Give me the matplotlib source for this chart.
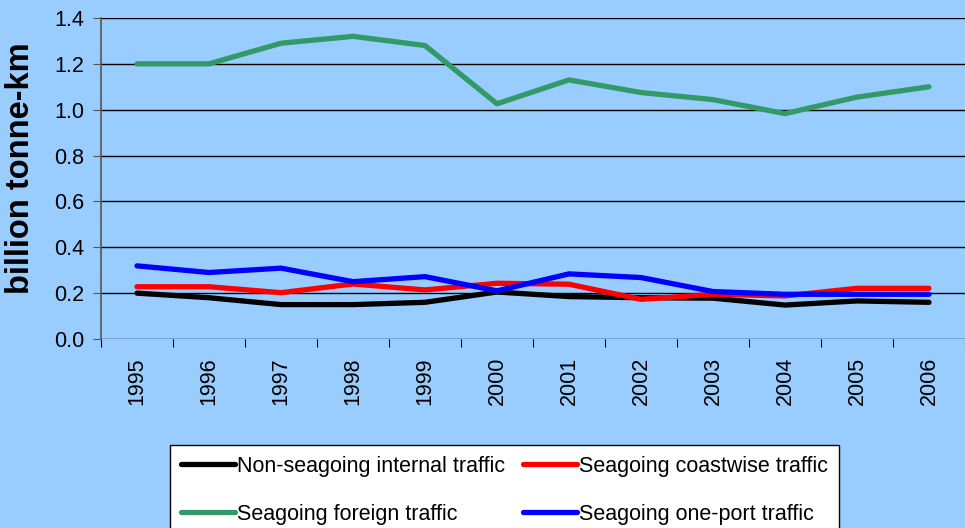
import matplotlib.pyplot as plt
import numpy as np

plt.rcParams['font.family'] = ['Liberation Sans', 'DejaVu Sans']

years = ['1995', '1996', '1997', '1998', '1999', '2000',
         '2001', '2002', '2003', '2004', '2005', '2006']

# billion tonne-km per year
non_seagoing = [0.20, 0.18, 0.15, 0.15, 0.16, 0.205, 0.185, 0.18, 0.178, 0.148, 0.166, 0.16]
coastwise = [0.228, 0.228, 0.202, 0.24, 0.214, 0.243, 0.239, 0.173, 0.195, 0.188, 0.221, 0.221]
foreign = [1.20, 1.20, 1.29, 1.32, 1.28, 1.026, 1.13, 1.075, 1.044, 0.983, 1.055, 1.10]
one_port = [0.319, 0.29, 0.309, 0.25, 0.272, 0.21, 0.284, 0.268, 0.207, 0.195, 0.195, 0.195]

bg = '#99CCFF'
fig = plt.figure(figsize=(9.65, 5.28), dpi=100, facecolor=bg)
ax = fig.add_axes([101/965, 189/528, 1 - 101/965, 321/528])
ax.set_facecolor(bg)

x = np.arange(len(years))
lw = 3.8
l1, = ax.plot(x, non_seagoing, color='black', lw=lw, solid_capstyle='round', label='Non-seagoing internal traffic')
l2, = ax.plot(x, coastwise, color='#FF0000', lw=lw, solid_capstyle='round', label='Seagoing coastwise traffic')
l3, = ax.plot(x, foreign, color='#339966', lw=lw, solid_capstyle='round', label='Seagoing foreign traffic')
l4, = ax.plot(x, one_port, color='#0000FF', lw=lw, solid_capstyle='round', label='Seagoing one-port traffic')

ax.set_xlim(-0.5, len(years) - 0.5)
ax.set_ylim(0, 1.4)
yt = np.arange(0, 1.41, 0.2)
ax.set_yticks(yt)
ax.set_yticklabels(['%.1f' % v for v in yt], fontsize=15.5)
ax.yaxis.grid(True, color='black', lw=1)
ax.set_axisbelow(True)

# category ticks sit between the years, labels centred on each year
ax.set_xticks(np.arange(-0.5, len(years), 1.0))
ax.set_xticklabels([])
ax.set_xticks(x, minor=True)
ax.set_xticklabels(years, minor=True, rotation=90, fontsize=15.5)
ax.tick_params(axis='x', which='minor', length=0, pad=13)
ax.tick_params(axis='x', which='major', length=6, color='black')
ax.tick_params(axis='y', length=6, color='#555555', pad=6)

for s in ['top', 'right', 'bottom']:
    ax.spines[s].set_visible(False)
ax.spines['left'].set_color('#555555')
ax.spines['left'].set_linewidth(1.2)

fig.text(21/965, 1 - 168/528, 'billion tonne-km', rotation=90, ha='center', va='center',
         fontsize=23.5, fontweight='bold')

# row-wise order: black, red on the first row, green, blue on the second
leg = fig.legend([l1, l3, l2, l4], [l.get_label() for l in (l1, l3, l2, l4)],
                 loc='upper left', bbox_to_anchor=(170/965, 1 - 445/528), ncol=2,
                 fontsize=15.5, frameon=True, fancybox=False, edgecolor='black',
                 framealpha=1, handlelength=2.5, handletextpad=0.1,
                 labelspacing=1.25, columnspacing=0.85, borderpad=0.5, borderaxespad=0)
leg.get_frame().set_linewidth(1.0)

fig.savefig('out.png', dpi=100, facecolor=bg)
